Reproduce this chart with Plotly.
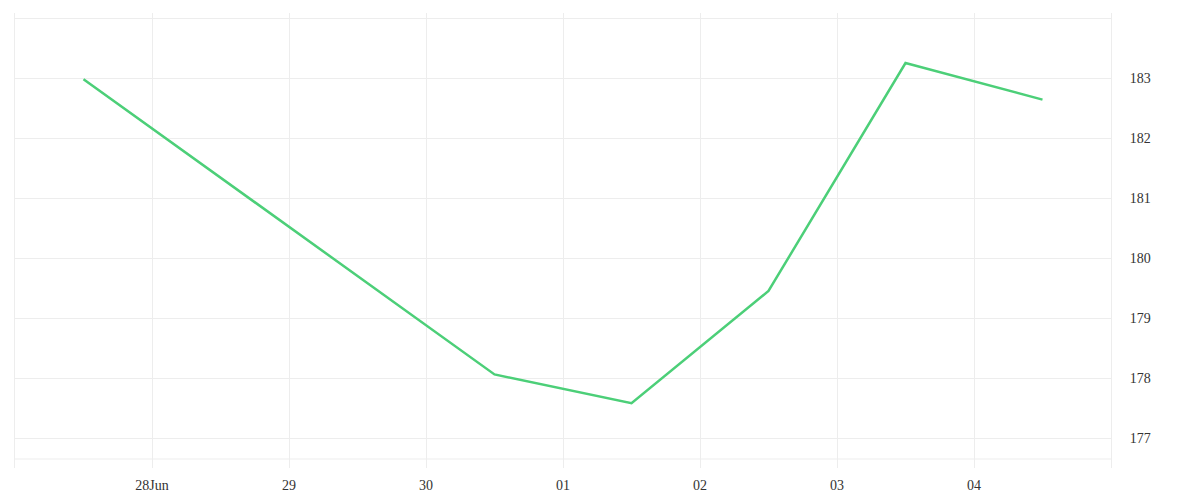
import plotly.graph_objects as go

# daily closes (noon timestamps)
dates = ["2024-06-27 12:00", "2024-06-30 12:00", "2024-07-01 12:00",
         "2024-07-02 12:00", "2024-07-03 12:00", "2024-07-04 12:00"]
prices = [182.98, 178.06, 177.58, 179.45, 183.25, 182.64]

tick_dates = ["2024-06-28", "2024-06-29", "2024-06-30", "2024-07-01",
              "2024-07-02", "2024-07-03", "2024-07-04"]
tick_labels = ["28Jun", "29", "30", "01", "02", "03", "04"]
y_ticks = [177, 178, 179, 180, 181, 182, 183, 184]

grid = "#ededed"

fig = go.Figure()
fig.add_trace(go.Scatter(x=dates, y=prices, mode="lines",
                         line=dict(color="#4ccf78", width=2.5),
                         hoverinfo="x+y"))

fig.update_layout(
    width=1200, height=500,
    margin=dict(l=7, r=97, t=5, b=40),
    paper_bgcolor="white", plot_bgcolor="white",
    showlegend=False,
    font=dict(family="Liberation Serif", size=14, color="#333333"),
    xaxis=dict(range=["2024-06-27", "2024-07-05"],
               tickvals=tick_dates, ticktext=tick_labels,
               showgrid=True, gridcolor=grid, gridwidth=1,
               zeroline=False, showline=False, ticks="",
               ticklabelstandoff=7),
    yaxis=dict(side="right", range=[176.5, 184.0833],
               tickvals=y_ticks, ticktext=[str(v) if v < 184 else "" for v in y_ticks],
               showgrid=True, gridcolor=grid, gridwidth=1,
               zeroline=False, showline=True, mirror=True, linecolor=grid,
               ticks="", ticklabelstandoff=15),
)

# thin rule near the bottom of the plot area
fig.add_shape(type="line", xref="x domain", yref="y domain",
              x0=0, x1=1, y0=0.0198, y1=0.0198,
              line=dict(color=grid, width=1), layer="below")

fig.write_html("out.html")
